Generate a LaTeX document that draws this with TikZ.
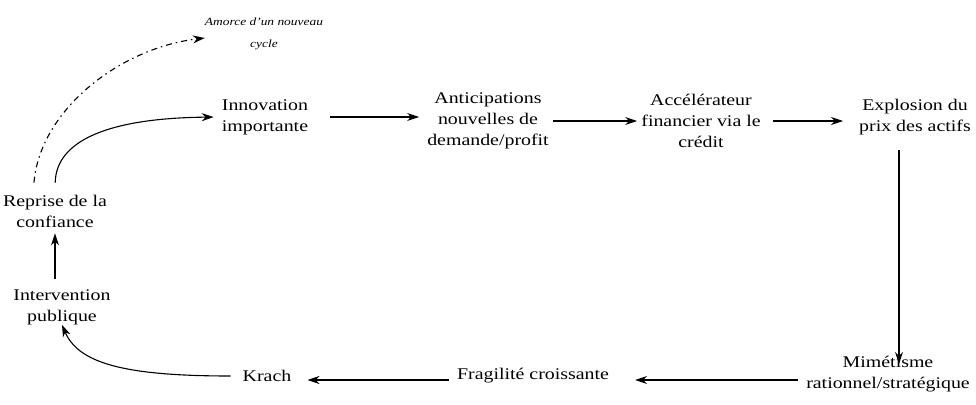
\documentclass[tikz,border=0pt]{standalone}
\usepackage{fontspec}
\setmainfont{Liberation Serif}[FakeStretch=1.22]
\usetikzlibrary{arrows, positioning, arrows.meta, calc}
\newcommand{\relationH}[4]
{
	\draw[fl, shorten <=#1, shorten >=#2] (#3.east) -- (#3.east -| #4.west)
}

\begin{document}
\begin{tikzpicture}[x=1pt, y=-1pt,
			etape/.append style={align=center,
				inner sep=0pt,
				font=\fontsize{16.3}{21}\selectfont},
			note/.style={align=center, inner sep=0pt,
				font=\fontsize{11}{22}\selectfont\itshape},
			fl/.style={line width=1.1pt, -{Stealth[length=12pt, width=8pt]}}]

			\useasboundingbox (0,0) rectangle (976,404);

			\node[note] at (264, 34) (amorce){Amorce d'un nouveau\\cycle};
			\node[etape] at (265, 117) (innov){Innovation\\importante};
			\node[etape] at (488, 121) (antic){Anticipations\\nouvelles de\\demande/profit};
			\node[etape] at (701, 121) (accel){Accélérateur\\financier via le\\crédit};
			\node[etape] at (915, 117) (explo){Explosion du\\prix des actifs};
			\node[etape] at (888, 374) (mimet){Mimétisme\\rationnel/stratégique};
			\node[etape] at (533, 376) (fragil){Fragilité croissante};
			\node[etape] at (267, 376) (krach){Krach};
			\node[etape] at (62, 307) (interv){Intervention\\publique};
			\node[etape] at (55, 211) (reprise){Reprise de la\\confiance};

			\relationH{22pt}{8pt}{innov}{antic};
			\relationH{4pt}{4pt}{antic}{accel};
			\relationH{12pt}{16pt}{accel}{explo};

			\draw[fl, shorten <=15pt, shorten >=-8pt] (explo.south -| 899,0) -- (mimet.north -| 899,0);
			\draw[fl, shorten <=8pt, shorten >=26pt] (mimet.west |- 0,380) -- (fragil.east |- 0,380);
			\draw[fl, shorten <=8pt, shorten >=16pt] (fragil.west |- 0,380) -- (krach.east |- 0,380);
			\draw[fl, shorten <=12pt] (krach.west) .. controls (120,376) and (78,362) .. (interv.south);
			\draw[fl, shorten <=10pt, shorten >=6pt] (interv.north -| reprise.south) -- (reprise.south);
			\draw[fl, shorten <=12pt, shorten >=8pt] (reprise.north) .. controls (56,140) and (110,118) .. (innov.west);
			\draw[fl, dash pattern=on 6pt off 4pt on 1.5pt off 4pt, shorten <=12pt] (reprise.north -| 33,0) .. controls (40,110) and (120,48) .. (amorce.west |- 0,38);
		\end{tikzpicture}
\end{document}
